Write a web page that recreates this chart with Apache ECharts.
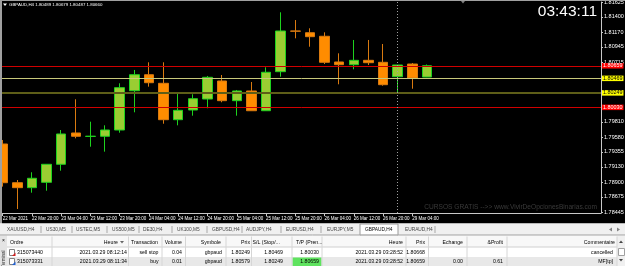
<!DOCTYPE html>
<html><head><meta charset="utf-8">
<script src="https://cdn.jsdelivr.net/npm/echarts@6/dist/echarts.min.js"></script>
<style>html,body{margin:0;padding:0;background:#000;}#c{width:625px;height:266px;}</style>
</head><body><div id="c"></div>
<script>
// ---------------- data ----------------
const symbolTitle = 'GBPAUD,H4';
const lastOHLC = [1.80489, 1.80679, 1.80487, 1.80660];
const clockText = '03:43:11';
// [open, close, low, high] per H4 candle, 22 Mar 2021 12:00 .. 29 Mar 2021 08:00
const ohlc = [
  [1.79475, 1.78889, 1.78830, 1.79536],
  [1.78889, 1.78814, 1.78491, 1.78930],
  [1.78814, 1.78956, 1.78738, 1.79047],
  [1.78895, 1.79168, 1.78768, 1.79172],
  [1.79168, 1.79627, 1.79071, 1.79687],
  [1.79642, 1.79592, 1.79561, 1.80152],
  [1.79590, 1.79593, 1.79434, 1.79813],
  [1.79592, 1.79687, 1.79359, 1.79758],
  [1.79687, 1.80328, 1.79646, 1.80394],
  [1.80282, 1.80524, 1.79955, 1.80596],
  [1.80524, 1.80403, 1.80343, 1.80712],
  [1.80394, 1.79843, 1.79782, 1.80712],
  [1.79843, 1.79985, 1.79758, 1.80252],
  [1.79990, 1.80161, 1.79904, 1.80228],
  [1.80156, 1.80485, 1.80016, 1.80505],
  [1.80429, 1.80131, 1.80107, 1.80520],
  [1.80131, 1.80278, 1.79904, 1.80293],
  [1.80278, 1.79979, 1.79979, 1.80414],
  [1.79979, 1.80561, 1.79979, 1.80636],
  [1.80570, 1.81186, 1.80494, 1.81469],
  [1.81186, 1.81183, 1.81075, 1.81352],
  [1.81160, 1.81100, 1.80948, 1.81227],
  [1.81106, 1.80712, 1.80686, 1.81166],
  [1.80717, 1.80676, 1.80379, 1.80848],
  [1.80676, 1.80742, 1.80606, 1.81050],
  [1.80742, 1.80706, 1.80671, 1.81050],
  [1.80712, 1.80373, 1.80358, 1.80989],
  [1.80494, 1.80671, 1.80243, 1.80671],
  [1.80686, 1.80474, 1.80312, 1.80701],
  [1.80489, 1.80660, 1.80487, 1.80679]
];
const timeTickIndex = [0, 2, 4, 6, 8, 10, 12, 14, 16, 18, 20, 22, 24, 26, 28];
const timeTickLabels = ['22 Mar 2021', '22 Mar 20:00', '23 Mar 04:00', '23 Mar 12:00', '23 Mar 20:00',
  '24 Mar 04:00', '24 Mar 12:00', '24 Mar 20:00', '25 Mar 04:00', '25 Mar 12:00', '25 Mar 20:00',
  '26 Mar 04:00', '26 Mar 12:00', '26 Mar 20:00', '29 Mar 04:00'];
const priceTicks = [1.81625, 1.81400, 1.81170, 1.80945, 1.80715, 1.79810, 1.79580, 1.79355,
  1.79130, 1.78900, 1.78675, 1.78445];
const weekSeparatorIndex = 27;
const orderLevels = [1.80659, 1.80469, 1.80249, 1.80030];
const watermark = 'CURSOS GRATIS -->> www.VivirDeOpcionesBinarias.com';

const tabNames = ['XAUUSD,H4', 'US30,M5', 'USTEC,M5', 'US500,M5', 'DE30,H4', 'UK100,M5', 'GBPUSD,H4',
  'AUDJPY,H4', 'EURUSD,H4', 'EURJPY,M5', 'GBPAUD,H4', 'EURAUD,H4'];
const activeTab = 'GBPAUD,H4';
const tableHeaders = ['Ordre', 'Heure', 'Transaction', 'Volume', 'Symbole', 'Prix', 'S/L (Stop/...',
  'T/P (Pren...', 'Heure', 'Prix', 'Echange', '&Profit', 'Commentaire'];
const orderIds = ['315073440', '315073331'];
const openTimes = ['2021.03.29 08:12:14', '2021.03.29 08:11:34'];
const orderTypes = ['sell stop', 'buy'];
const volumes = ['0.04', '0.01'];
const symbols = ['gbpaud', 'gbpaud'];
const openPrices = ['1.80249', '1.80579'];
const stopLosses = ['1.80469', '1.80249'];
const takeProfits = ['1.80030', '1.80659'];
const closeTimes = ['2021.03.29 03:28:52', '2021.03.29 03:28:52'];
const closePrices = ['1.80668', '1.80659'];
const swaps = ['', '0.00'];
const profits = ['', '0.61'];
const comments = ['cancelled', 'MF[tp]'];

// ---------------- layout / style ----------------
const F = 'Liberation Sans';
const levelStyles = [
  { line: '#d00000', width: 1, bg: '#ff0000', fg: '#ffffff' },
  { line: '#c8c87a', width: 1, bg: '#ffff00', fg: '#000000' },
  { line: '#5e5e18', width: 2, bg: '#ffff00', fg: '#000000' },
  { line: '#d00000', width: 1, bg: '#ff0000', fg: '#ffffff' }
];
const tabX = [7, 46, 76, 112, 143, 177, 212, 246, 286, 327, 365, 405];
const tabSepX = [41, 72, 107, 139, 172, 207, 242, 281, 321, 435];
const colLayout = [
  { hx: 10, ha: 'left', vx: 17, va: 'left' },
  { hx: 118, ha: 'right', vx: 127, va: 'right' },
  { hx: 131, ha: 'left', vx: 158.5, va: 'right' },
  { hx: 182, ha: 'right', vx: 182, va: 'right' },
  { hx: 221, ha: 'right', vx: 222, va: 'right' },
  { hx: 250, ha: 'right', vx: 250, va: 'right' },
  { hx: 252.5, ha: 'left', vx: 283, va: 'right' },
  { hx: 296, ha: 'left', vx: 319, va: 'right' },
  { hx: 403, ha: 'right', vx: 403, va: 'right' },
  { hx: 425, ha: 'right', vx: 425, va: 'right' },
  { hx: 463, ha: 'right', vx: 463, va: 'right' },
  { hx: 503, ha: 'right', vx: 503, va: 'right' },
  { hx: 615, ha: 'right', vx: 613, va: 'right' }
];
const colSepX = [52, 128.5, 162, 185.5, 226, 251.5, 292, 322, 406, 428.5, 467, 507, 617];

const G = [];
function T(x, y, s, o) {
  o = o || {};
  const a = o.align || 'left';
  G.push({ type: 'text', x: x, y: y, z: o.z || 120, silent: true, rotation: o.rotation || 0,
    style: { text: s, fill: o.fill || '#000', fontSize: o.size || 5.2, fontFamily: o.family || F,
      align: a, textAlign: a, verticalAlign: 'middle', textVerticalAlign: 'middle' } });
}
function R(x, y, w, h, fill, stroke, z) {
  const st = { fill: fill };
  if (stroke) { st.stroke = stroke; st.lineWidth = 1; }
  G.push({ type: 'rect', z: z || 110, silent: true, shape: { x: x, y: y, width: w, height: h }, style: st });
}
function L(x1, y1, x2, y2, stroke, z) {
  G.push({ type: 'line', z: z || 115, silent: true, shape: { x1: x1, y1: y1, x2: x2, y2: y2 },
    style: { stroke: stroke, lineWidth: 1 } });
}
function P(points, fill, z) {
  G.push({ type: 'polygon', z: z || 116, silent: true, shape: { points: points }, style: { fill: fill } });
}

// chart window frame + overlays
R(0, 0, 2, 224, '#a0a0a0');
R(0, 0, 625, 1, '#a0a0a0');
P([[3, 3.5], [7, 3.5], [5, 6]], '#ffffff');
T(9, 5, symbolTitle + ' ' + lastOHLC.map(v => v.toFixed(5)).join(' '), { fill: '#ffffff', size: 4.4 });
T(597, 11.5, clockText, { align: 'right', fill: '#ffffff', size: 15.5 });
P([[461, 1], [465, 1], [463, 3.5]], '#808080');
T(597, 207, watermark, { align: 'right', fill: '#3a3a3a', size: 6.6 });

// terminal: tabs
R(0, 223.5, 625, 42.5, '#ffffff');
R(0, 223.5, 625, 11.5, '#f0f0f0');
L(0, 235, 625, 235, '#a0a0a0');
tabSepX.forEach(x => L(x, 226, x, 233, '#a8a8a8'));
const ai = tabNames.indexOf(activeTab);
R(360, 224, 38, 11, '#ffffff', '#9a9a9a', 112);
L(360.5, 235, 397.5, 235, '#ffffff', 113);
tabNames.forEach((n, i) => T(tabX[i], 229.5, n, { size: 4.8, fill: i === ai ? '#000' : '#444' }));
P([[609, 229.5], [612, 227.5], [612, 231.5]], '#808080');
P([[620, 229.5], [617, 227.5], [617, 231.5]], '#808080');

// terminal: table
R(0, 235.5, 7, 30.5, '#e4e4e4');
T(3.5, 240.5, '×', { align: 'center', size: 5 });
T(3.5, 259, 'Terminal', { align: 'center', size: 4.5, rotation: Math.PI / 2, fill: '#333' });
R(7, 236, 610, 11, '#f8f8f8');
L(7, 247, 617, 247, '#d0d0d0');
R(7, 257, 610, 9, '#e8e8e8');
colSepX.forEach(x => L(x, 236.5, x, 266, '#d6d6d6'));
R(292.5, 257.5, 29, 8.5, '#5fe35f', null, 111);
tableHeaders.forEach((h, i) => T(colLayout[i].hx, 242.5, h, { align: colLayout[i].ha }));
P([[120, 241], [124, 241], [122, 243.5]], '#666');
const rows = [orderIds, openTimes, orderTypes, volumes, symbols, openPrices, stopLosses, takeProfits,
  closeTimes, closePrices, swaps, profits, comments];
[252.5, 261.5].forEach((y, r) => {
  rows.forEach((col, c) => { if (col[r]) T(colLayout[c].vx, y, col[r], { align: colLayout[c].va }); });
  R(9.5, y - 3, 5, 6, '#ffffff', '#808080', 112);
  P([[12, y + 3.5], [15.5, y + 3.5], [15.5, y]], r === 0 ? '#d02020' : '#2060d0', 117);
});
R(617, 236, 8, 30, '#f0f0f0', null, 113);
P([[619, 243], [623, 243], [621, 240.5]], '#444', 118);
R(618.5, 248.5, 6, 7, '#ffffff', '#a0a0a0', 114);
P([[619, 259], [623, 259], [621, 261.5]], '#444', 118);

// ---------------- chart ----------------
const levelMarks = orderLevels.map((v, k) => ({
  yAxis: v,
  lineStyle: { color: levelStyles[k].line, width: levelStyles[k].width, type: 'solid' },
  label: { show: true, position: 'end', distance: 1, formatter: () => v.toFixed(5),
    backgroundColor: levelStyles[k].bg, color: levelStyles[k].fg, fontSize: 5.4, fontFamily: F,
    padding: [0.5, 1, 0, 1], lineHeight: 5 }
}));
const sepMark = [{ xAxis: weekSeparatorIndex, lineStyle: { color: '#a0a0a0', width: 1, type: [1, 2] },
  label: { show: false } }];

const chart = echarts.init(document.getElementById('c'), null, { renderer: 'canvas' });
chart.setOption({
  backgroundColor: '#000000',
  animation: false,
  grid: { left: 2, right: 24, top: 2, bottom: 53, containLabel: false, outerBoundsMode: 'none' },
  xAxis: {
    type: 'value', min: -0.0458, max: 40.896,
    axisLine: { show: true, onZero: false, lineStyle: { color: '#c8c8c8', width: 1 } },
    axisTick: { show: true, customValues: timeTickIndex, length: 3, lineStyle: { color: '#c8c8c8' } },
    axisLabel: { show: true, customValues: timeTickIndex, hideOverlap: false,
      formatter: v => timeTickLabels[timeTickIndex.indexOf(v)],
      color: '#ffffff', fontSize: 4.5, fontFamily: F, align: 'left', margin: 3 },
    splitLine: { show: false }
  },
  yAxis: {
    type: 'value', position: 'right', min: 1.784305, max: 1.81625, scale: true,
    axisLine: { show: true, onZero: false, lineStyle: { color: '#c8c8c8', width: 1 } },
    axisTick: { show: true, customValues: priceTicks, length: 2, lineStyle: { color: '#c8c8c8' } },
    axisLabel: { show: true, customValues: priceTicks, hideOverlap: false,
      formatter: v => v.toFixed(5), color: '#ffffff', fontSize: 5.5, fontFamily: F, margin: 3 },
    splitLine: { show: false }
  },
  series: [{
    type: 'candlestick',
    data: ohlc.map((d, i) => [i, d[0], d[1], d[2], d[3]]),
    encode: { x: 0, y: [1, 2, 3, 4] },
    barWidth: 10,
    clip: true,
    z: 2,
    itemStyle: { color: '#9acd32', color0: '#ff8c00', borderColor: '#1ed21e', borderColor0: '#d97a10', borderWidth: 1 }
  }, {
    type: 'line', data: [], z: 3, silent: true,
    markLine: { silent: true, precision: 5, symbol: ['none', 'none'], animation: false, data: levelMarks.concat(sepMark) }
  }],
  graphic: { elements: G }
});
</script></body></html>
